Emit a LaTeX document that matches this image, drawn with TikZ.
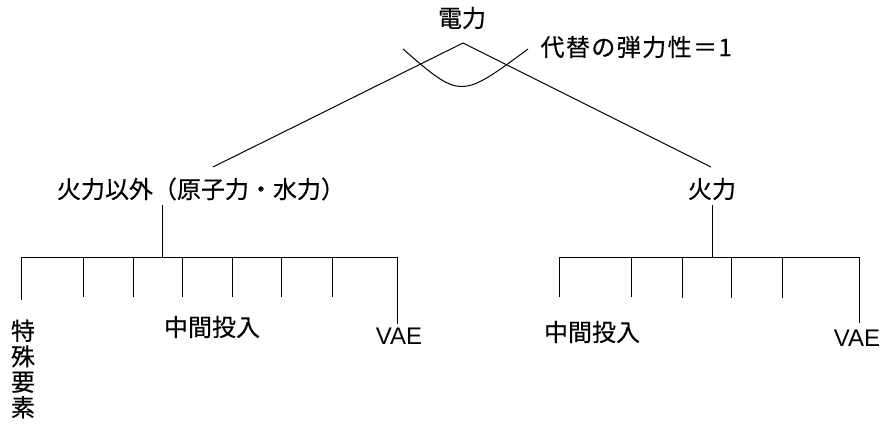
\documentclass[tikz,border=0pt]{standalone}
\usepackage{fontspec}
\setmainfont{Liberation Sans}
\newfontfamily\jp[FakeBold=0.4]{Noto Sans CJK JP}
\newfontfamily\jpsp[FakeBold=0.4,LetterSpace=6]{Noto Sans CJK JP}
\begin{document}
\begin{tikzpicture}[x=1pt,y=-1pt,line width=1pt,
  lbl/.style={inner sep=0pt,font=\jp\fontsize{24}{28}\selectfont},
  lat/.style={inner sep=0pt,font=\fontsize{24}{28}\selectfont}]
\useasboundingbox (0,0) rectangle (884,424);
% top
\node[lbl] (den) at (462,18) {電力};
\coordinate (apex) at (463,43);
\node[lbl] (hika) at (201,189) {火力以外（原子力・水力）};
\node[lbl] (kar) at (712,189) {火力};
\coordinate (lend) at (213,167);
\coordinate (rend) at (711,167);
\draw (lend) -- (apex) -- (rend);
\coordinate (arcL) at (403,49);
\coordinate (arcR) at (528,49);
\draw (arcL) .. controls (460.5,99) .. (arcR);
\node[lbl,font=\jpsp\fontsize{24}{28}\selectfont,anchor=west] (sub) at (540,47) {代替の弾力性＝1};
% left tree
\coordinate (Lt) at (162,205);
\coordinate (Lb) at (162,257);
\draw (Lt) -- (Lb);
\coordinate (LbarL) at (21,257);
\coordinate (LbarR) at (397,257);
\draw (LbarL) -- (LbarR);
\foreach \x/\b [count=\i] in {21/300,83/297,133/297,182/297,232/297,281/297,332/297,397/324}{
  \coordinate (lta\i) at (\x,257);
  \coordinate (ltb\i) at (\x,\b);
  \draw (lta\i) -- (ltb\i);
}
\node[lbl,align=center,font=\jp\fontsize{24}{25.5}\selectfont] (toku) at (23,369) {特\\殊\\要\\素};
\node[lbl] (chuL) at (212,327) {中間投入};
\node[lat] (vaeL) at (399,336) {VAE};
% right tree
\coordinate (Rt) at (712,205);
\coordinate (Rb) at (712,257);
\draw (Rt) -- (Rb);
\coordinate (RbarL) at (559,257);
\coordinate (RbarR) at (859,257);
\draw (RbarL) -- (RbarR);
\foreach \x/\b [count=\i] in {559/297,631/297,682/298,731/298,782/298,859/323}{
  \coordinate (rta\i) at (\x,257);
  \coordinate (rtb\i) at (\x,\b);
  \draw (rta\i) -- (rtb\i);
}
\node[lbl] (chuR) at (592,332) {中間投入};
\node[lat] (vaeR) at (857,338) {VAE};
\end{tikzpicture}
\end{document}
